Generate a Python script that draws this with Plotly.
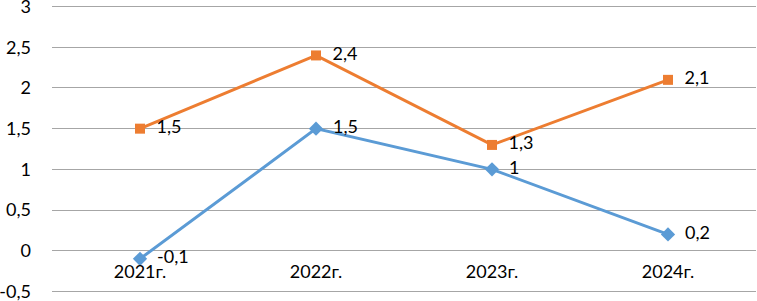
import plotly.graph_objects as go

categories = ["2021г.", "2022г.", "2023г.", "2024г."]
series_blue = [-0.1, 1.5, 1.0, 0.2]
series_orange = [1.5, 2.4, 1.3, 2.1]
y_ticks = [-0.5, 0, 0.5, 1, 1.5, 2, 2.5, 3]

def fmt(v):
    s = ("%g" % v).replace(".", ",")
    return s

FONT = "Lato, Carlito, 'Open Sans', sans-serif"
Y_RANGE = [-0.52, 3.02]

fig = go.Figure()
fig.add_trace(go.Scatter(
    x=categories, y=series_blue, mode="lines+markers+text",
    line=dict(color="#5B9BD5", width=3),
    marker=dict(symbol="diamond", size=11, color="#5B9BD5"),
    text=["  " + fmt(v) for v in series_blue], textposition="middle right",
    textfont=dict(family=FONT, size=18, color="#000000"),
    cliponaxis=False, showlegend=False,
))
fig.add_trace(go.Scatter(
    x=categories, y=series_orange, mode="lines+markers+text",
    line=dict(color="#ED7D31", width=3),
    marker=dict(symbol="square", size=10, color="#ED7D31"),
    text=["  " + fmt(v) for v in series_orange], textposition="middle right",
    textfont=dict(family=FONT, size=18, color="#000000"),
    cliponaxis=False, showlegend=False,
))

fig.update_layout(
    width=757, height=301,
    margin=dict(l=52, r=1, t=5, b=8),
    paper_bgcolor="white", plot_bgcolor="white",
    font=dict(family=FONT, size=18, color="#000000"),
    xaxis=dict(
        type="category", range=[-0.5, 3.5], automargin=False,
        showgrid=False, showline=False, zeroline=False,
        anchor="free", position=(0 - Y_RANGE[0]) / (Y_RANGE[1] - Y_RANGE[0]),
        ticks="", ticklabelstandoff=8,
        tickfont=dict(family=FONT, size=18, color="#000000"),
    ),
    yaxis=dict(
        range=Y_RANGE, tickvals=y_ticks, automargin=False,
        ticktext=[fmt(v) for v in y_ticks],
        showgrid=True, gridcolor="#A6A6A6", gridwidth=1,
        zeroline=True, zerolinecolor="#A6A6A6", zerolinewidth=1,
        showline=False, ticks="", ticklabelstandoff=20,
        ticklabeloverflow="allow",
        tickfont=dict(family=FONT, size=18, color="#000000"),
    ),
)

fig.write_html("out.html", config={"displayModeBar": False},
               post_script="document.body.style.margin='0';")
